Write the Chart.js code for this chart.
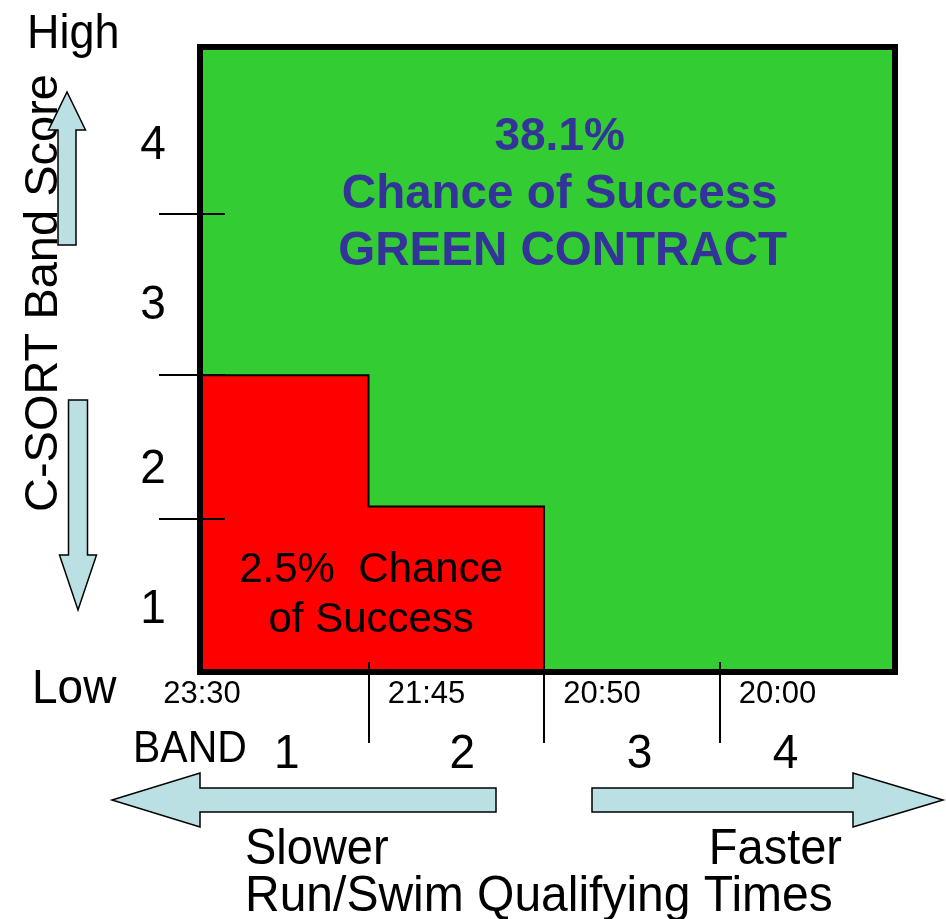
<!DOCTYPE html>
<html>
<head>
<meta charset="utf-8">
<script src="https://cdn.jsdelivr.net/npm/chart.js@4/dist/chart.umd.min.js"></script>
<style>
    body { margin: 0; background: #fff; }
    canvas { display: block; }
</style>
</head>
<body>
<canvas id="bandChart" width="946" height="919"></canvas>
<script>
// band / score grid
const timeLabels = ['23:30', '21:45', '20:50', '20:00'];
const bandLabels = ['1', '2', '3', '4'];
const scoreLabels = ['1', '2', '3', '4'];
const bandEdges = [0.97, 1.98, 2.99];
const scoreEdges = [0.98, 1.90, 2.93];

// regions
const redX = [0, 0.97, 0.97, 1.98, 1.98];
const redY = [1.90, 1.90, 1.06, 1.06, 0];
const greenX = [0, 4];
const greenY = [4, 4];

const FONT = "'Liberation Sans', Arial, sans-serif";

function txt(ctx, s, x, y, font, align, color, sy) {
    ctx.save();
    ctx.font = font;
    ctx.fillStyle = color;
    ctx.textAlign = align;
    ctx.textBaseline = 'alphabetic';
    ctx.translate(x, y);
    ctx.scale(1, sy || 1);
    ctx.fillText(s, 0, 0);
    ctx.restore();
}

function arrowH(ctx, tail, base, tip, cy, hb, hh) {
    ctx.beginPath();
    ctx.moveTo(tail, cy - hb);
    ctx.lineTo(base, cy - hb);
    ctx.lineTo(base, cy - hh);
    ctx.lineTo(tip, cy);
    ctx.lineTo(base, cy + hh);
    ctx.lineTo(base, cy + hb);
    ctx.lineTo(tail, cy + hb);
    ctx.closePath();
    ctx.fill();
    ctx.stroke();
}

function arrowV(ctx, tail, base, tip, cx, hb, hh) {
    ctx.beginPath();
    ctx.moveTo(cx - hb, tail);
    ctx.lineTo(cx - hb, base);
    ctx.lineTo(cx - hh, base);
    ctx.lineTo(cx, tip);
    ctx.lineTo(cx + hh, base);
    ctx.lineTo(cx + hb, base);
    ctx.lineTo(cx + hb, tail);
    ctx.closePath();
    ctx.fill();
    ctx.stroke();
}

const decorPlugin = {
    id: 'decor',
    afterDraw(chart) {
        const ctx = chart.ctx;
        const xs = chart.scales.x, ys = chart.scales.y;
        const a = chart.chartArea;

        // frame
        ctx.save();
        ctx.strokeStyle = '#000';
        ctx.lineWidth = 6;
        ctx.strokeRect(a.left, a.top, a.right - a.left, a.bottom - a.top);

        // tick marks
        ctx.lineWidth = 2;
        scoreEdges.forEach(v => {
            const y = Math.round(ys.getPixelForValue(v));
            ctx.beginPath();
            ctx.moveTo(a.left - 41, y);
            ctx.lineTo(a.left + 25, y);
            ctx.stroke();
        });
        bandEdges.forEach(v => {
            const x = Math.round(xs.getPixelForValue(v));
            ctx.beginPath();
            ctx.moveTo(x, a.bottom - 10);
            ctx.lineTo(x, a.bottom + 71);
            ctx.stroke();
        });
        ctx.restore();

        // score numbers
        const scorePos = [0.42, 1.32, 2.37, 3.39];
        scoreLabels.forEach((s, i) => {
            txt(ctx, s, 153, ys.getPixelForValue(scorePos[i]) + 17, '46px ' + FONT, 'center', '#000', 1.05);
        });

        // time labels under axis
        timeLabels.forEach((s, i) => {
            const x = i === 0 ? xs.getPixelForValue(0) + 2 : xs.getPixelForValue(bandEdges[i - 1]) + 58;
            txt(ctx, s, x, 703, '31px ' + FONT, 'center', '#000', 1.0);
        });

        // band numbers
        const bandPos = [0.5, 1.51, 2.53, 3.37];
        bandLabels.forEach((s, i) => {
            txt(ctx, s, xs.getPixelForValue(bandPos[i]), 768, '46px ' + FONT, 'center', '#000', 1.05);
        });
        txt(ctx, 'BAND', 133, 762, '41px ' + FONT, 'left', '#000', 1.07);

        txt(ctx, 'High', 27, 48, '45px ' + FONT, 'left', '#000', 1.08);
        txt(ctx, 'Low', 32, 703, '46px ' + FONT, 'left', '#000', 1.05);

        // rotated axis title
        ctx.save();
        ctx.translate(57, 293);
        ctx.rotate(-Math.PI / 2);
        txt(ctx, 'C-SORT Band Score', 0, 0, '47px ' + FONT, 'center', '#000', 1.0);
        ctx.restore();

        // region captions
        const cx = xs.getPixelForValue(2.07);
        txt(ctx, '38.1%', cx, 150, 'bold 46px ' + FONT, 'center', '#333399', 1.0);
        txt(ctx, 'Chance of Success', cx, 208, 'bold 47.5px ' + FONT, 'center', '#333399', 1.0);
        txt(ctx, 'GREEN CONTRACT', cx + 3, 265, 'bold 47.5px ' + FONT, 'center', '#333399', 1.0);

        const rx = xs.getPixelForValue(0.985);
        txt(ctx, '2.5%  Chance', rx, 582, '42px ' + FONT, 'center', '#000', 1.02);
        txt(ctx, 'of Success', rx, 632, '42px ' + FONT, 'center', '#000', 1.02);

        // arrows
        ctx.save();
        ctx.fillStyle = '#BBE0E3';
        ctx.strokeStyle = '#000';
        ctx.lineWidth = 1.5;
        ctx.lineJoin = 'miter';
        arrowV(ctx, 245, 130, 92, 67, 9, 18.5);
        arrowV(ctx, 400, 555, 610, 78, 9.5, 18.5);
        arrowH(ctx, 496, 200, 112, 800, 12, 27);
        arrowH(ctx, 592, 853, 943, 800, 12, 27);
        ctx.restore();

        txt(ctx, 'Slower', 245, 864, '47px ' + FONT, 'left', '#000', 1.07);
        txt(ctx, 'Faster', 842, 864, '47px ' + FONT, 'right', '#000', 1.07);
        txt(ctx, 'Run/Swim Qualifying Times', 245, 911, '48px ' + FONT, 'left', '#000', 1.06);
    }
};

const ctx = document.getElementById('bandChart').getContext('2d');

new Chart(ctx, {
    type: 'line',
    data: {
        datasets: [
            {
                label: '2.5% Chance of Success',
                data: redX.map((x, i) => ({ x: x, y: redY[i] })),
                borderColor: '#000',
                borderWidth: 2,
                backgroundColor: '#FF0000',
                fill: 'origin',
                pointRadius: 0,
                tension: 0,
                order: 0
            },
            {
                label: 'GREEN CONTRACT',
                data: greenX.map((x, i) => ({ x: x, y: greenY[i] })),
                borderWidth: 0,
                borderColor: 'rgba(0,0,0,0)',
                backgroundColor: '#33CC33',
                fill: 'origin',
                pointRadius: 0,
                tension: 0,
                order: 1
            }
        ]
    },
    options: {
        responsive: false,
        animation: false,
        devicePixelRatio: 1,
        layout: { padding: { left: 200, top: 47, right: 51, bottom: 247 } },
        plugins: {
            legend: { display: false },
            tooltip: { enabled: false },
            title: { display: false }
        },
        scales: {
            x: { type: 'linear', min: 0, max: 4, display: false },
            y: { type: 'linear', min: 0, max: 4, display: false }
        }
    },
    plugins: [decorPlugin]
});
</script>
</body>
</html>
